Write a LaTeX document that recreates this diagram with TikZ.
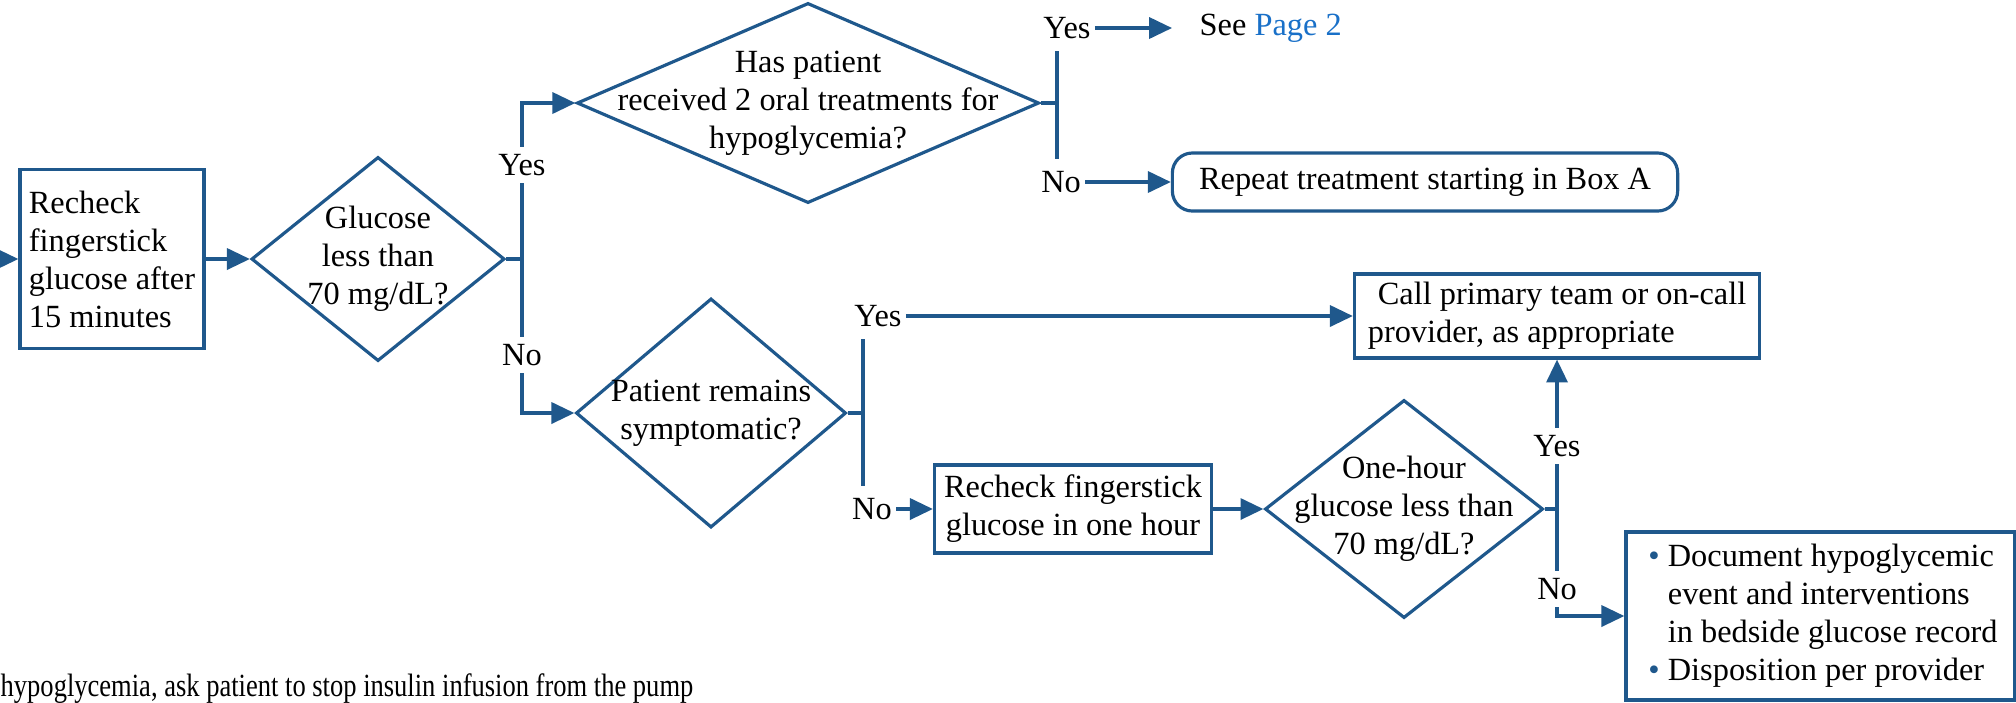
\documentclass[tikz,border=0pt]{standalone}
\usepackage{fontspec}
\setmainfont{Liberation Serif}
\newfontfamily\flowfont{Liberation Serif}
\usepackage{xcolor}
\usepackage{tikz}
\usetikzlibrary{shapes,arrows,arrows.meta,positioning}

\definecolor{flowblue}{RGB}{31,88,140}
\definecolor{linkblue}{RGB}{25,112,200}

\newcommand{\flowbullet}{\textcolor{flowblue}{\textbullet}\ }

\tikzset{
    box/.style={draw=flowblue, line width=0.9pt, rectangle,
        inner sep=0pt, align=center},
    decision/.style={draw=flowblue, line width=0.9pt, diamond,
        inner sep=0pt},
    txt/.style={align=center, inner sep=0pt},
    lbl/.style={fill=white, inner sep=2pt},
    tag/.style={inner sep=1pt},
    link/.style={draw=flowblue, line width=0.9pt},
}

\begin{document}
\begin{tikzpicture}[x=0.01cm, y=-0.01cm,
    >={Triangle[length=6.5pt,width=6pt]},
    font=\flowfont\fontsize{9.2pt}{10.8pt}\selectfont]

    \useasboundingbox (0,0) rectangle (2016,702);

    \coordinate (in0) at (0,259);
    \node[box, align=left, minimum width=1.84cm, minimum height=1.79cm]
        (b1) at (112,259) {Recheck\\fingerstick\\glucose after\\15 minutes};

    \node[decision, minimum width=2.53cm, minimum height=2.04cm]
        (d1) at (378,259) {};
    \node[txt] (d1t) at (d1) {Glucose\\less than\\70 mg/dL?};

    \node[decision, minimum width=4.62cm, minimum height=2.0cm]
        (d2) at (808,103) {};
    \node[txt] (d2t) at (d2)
        {Has patient\\received 2 oral treatments for\\hypoglycemia?};

    \node[box, rounded corners=0.2cm, minimum width=5.05cm,
        minimum height=0.58cm] (rep) at (1425,182)
        {Repeat treatment starting in Box A};
    \node[anchor=west, inner xsep=0.27cm, inner ysep=0pt] (pg) at (1172,28)
        {See \textcolor{linkblue}{Page 2}};

    \node[decision, minimum width=2.7cm, minimum height=2.29cm]
        (d3) at (711,413) {};
    \node[txt] (d3t) at (d3) {Patient remains\\symptomatic?};

    \node[box, align=left, minimum width=4.05cm, minimum height=0.84cm]
        (call) at (1557,316)
        {\hspace{0.1cm}Call primary team or on-call\\
        provider, as appropriate};

    \node[box, minimum width=2.77cm, minimum height=0.88cm]
        (b4) at (1073,509) {Recheck fingerstick\\glucose in one hour};

    \node[decision, minimum width=2.78cm, minimum height=2.18cm]
        (d4) at (1404,509) {};
    \node[txt] (d4t) at (d4) {One-hour\\glucose less than\\70 mg/dL?};

    \node[box, align=left, minimum width=3.88cm, minimum height=1.68cm]
        (b5) at (1820,616)
        {\hspace{0.06cm}\flowbullet Document hypoglycemic\\
        \hspace{0.06cm}\phantom{\flowbullet}event and interventions\\
        \hspace{0.06cm}\phantom{\flowbullet}in bedside glucose record\\
        \hspace{0.06cm}\flowbullet Disposition per provider};

    \node[anchor=west, inner sep=0pt] (foot) at (0,689)
        {\scalebox{0.82}[1]{hypoglycemia, ask patient to stop insulin
        infusion from the pump}};

    \coordinate (j1) at (522,259);
    \coordinate (j2) at (1057,103);
    \coordinate (j3) at (863,413);
    \coordinate (j4) at (call.south |- d4.east);

    \node[tag] (y2) at (1067,28) {Yes};
    \node[tag] (n2) at (1061,182) {No};
    \node[tag] (y3) at (878,316) {Yes};
    \node[tag] (n3) at (872,509) {No};

    \draw[link,->] (in0) -- (b1.west);
    \draw[link,->] (b1.east) -- (d1.west);
    \draw[link] (d1.east) -- (j1);
    \draw[link,->] (j1) |- (d2.west);
    \draw[link,->] (j1) |- (d3.west);

    \draw[link] (d2.east) -- (j2);
    \draw[link] (j2) -- ([yshift=-0.08cm]y2.south -| j2);
    \draw[link] (j2) -- ([yshift=0.08cm]n2.north -| j2);
    \draw[link,->] (y2.east) -- (pg.west);
    \draw[link,->] (n2.east) -- (rep.west);

    \draw[link] (d3.east) -- (j3);
    \draw[link] (j3) -- ([yshift=-0.08cm]y3.south -| j3);
    \draw[link] (j3) -- ([yshift=0.08cm]n3.north -| j3);
    \draw[link,->] (y3.east) -- (call.west);
    \draw[link,->] (n3.east) -- (b4.west);

    \draw[link,->] (b4.east) -- (d4.west);
    \draw[link] (d4.east) -- (j4);
    \draw[link,->] (j4) -- (call.south);
    \draw[link,->] (j4) |- (b5.west);

    \node[lbl] (y1) at (522,165) {Yes};
    \node[lbl] (n1) at (522,355) {No};
    \node[lbl] (y4) at (j4 |- 0,446) {Yes};
    \node[lbl] (n4) at (j4 |- 0,589) {No};
        \end{tikzpicture}
\end{document}
